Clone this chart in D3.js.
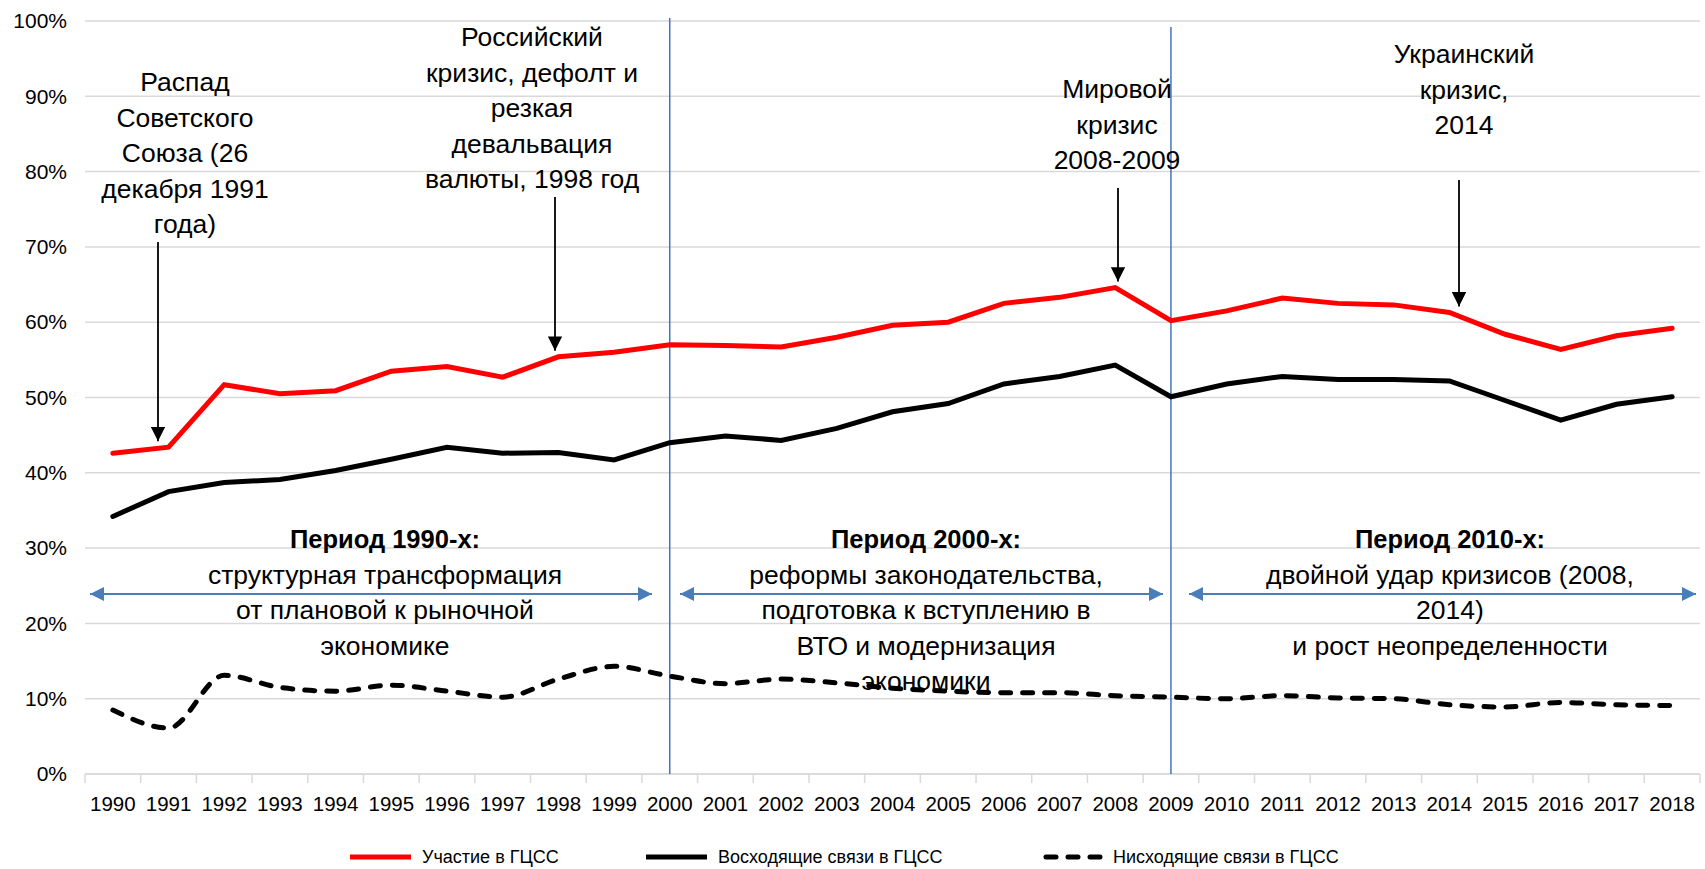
<!DOCTYPE html>
<html><head><meta charset="utf-8">
<script src="https://cdn.jsdelivr.net/npm/d3@7"></script>
<style>
html,body{margin:0;padding:0;background:#fff;}
text{font-family:"Liberation Sans",Arial,sans-serif;}
</style></head>
<body><svg id="c" width="1705" height="869"></svg>
<script>
const years = [1990,1991,1992,1993,1994,1995,1996,1997,1998,1999,2000,2001,2002,2003,2004,2005,2006,2007,2008,2009,2010,2011,2012,2013,2014,2015,2016,2017,2018];
const participation = [42.6,43.4,51.7,50.5,50.9,53.5,54.1,52.7,55.4,56.0,57.0,56.9,56.7,58.0,59.6,60.0,62.5,63.3,64.6,60.2,61.5,63.2,62.5,62.3,61.3,58.4,56.4,58.2,59.2];
const forwardLinks = [34.2,37.5,38.7,39.1,40.3,41.8,43.4,42.6,42.7,41.7,44.0,44.9,44.3,45.9,48.1,49.2,51.8,52.8,54.3,50.1,51.8,52.8,52.4,52.4,52.2,49.6,47.0,49.1,50.1];
const backwardLinks = [8.5,6.1,13.1,11.5,11.0,11.8,11.0,10.2,12.6,14.3,13.0,12.0,12.6,12.1,11.4,11.0,10.8,10.8,10.4,10.2,10.0,10.4,10.1,10.0,9.2,8.9,9.5,9.2,9.1];
const yTicks = [0,10,20,30,40,50,60,70,80,90,100];
const seriesNames = ["Участие в ГЦСС","Восходящие связи в ГЦСС","Нисходящие связи в ГЦСС"];
const eventYears = [1991,1998,2008,2014];
const eventTexts = [
  ["Распад","Советского","Союза (26","декабря 1991","года)"],
  ["Российский","кризис, дефолт и","резкая","девальвация","валюты, 1998 год"],
  ["Мировой","кризис","2008-2009"],
  ["Украинский","кризис,","2014"]
];
const periodBoundaries = [2000,2009];
const periodTitles = ["Период 1990-х:","Период 2000-х:","Период 2010-х:"];
const periodTexts = [
  ["структурная трансформация","от плановой к рыночной","экономике"],
  ["реформы законодательства,","подготовка к вступлению в","ВТО и модернизация","экономики"],
  ["двойной удар кризисов (2008,","2014)","и рост неопределенности"]
];

const svg = d3.select("#c");
const L = 85, R = 1700, T = 21, B = 774;
const x = d3.scaleBand().domain(years).range([L, R]).padding(0);
const xc = d => x(d) + x.bandwidth()/2;
const y = d3.scaleLinear().domain([0,100]).range([B, T]);
const FONT = "'Liberation Sans',Arial,sans-serif";

const defs = svg.append("defs");
defs.append("marker").attr("id","bArrow").attr("viewBox","0 0 10 10").attr("refX",10).attr("refY",5)
  .attr("markerWidth",7).attr("markerHeight",7).attr("markerUnits","strokeWidth").attr("orient","auto-start-reverse")
  .append("path").attr("d","M0,0 L10,5 L0,10 Z").attr("fill","#4a7ebb");
defs.append("marker").attr("id","kArrow").attr("viewBox","0 0 10 10").attr("refX",10).attr("refY",5)
  .attr("markerWidth",8).attr("markerHeight",8).attr("markerUnits","strokeWidth").attr("orient","auto")
  .append("path").attr("d","M0,0 L10,5 L0,10 Z").attr("fill","#000");

// gridlines
svg.append("g").selectAll("line").data(yTicks).join("line")
  .attr("x1",L).attr("x2",R).attr("y1",d=>y(d)).attr("y2",d=>y(d))
  .attr("stroke","#d9d9d9").attr("stroke-width",1.5);

// y axis labels
const yAxis = d3.axisLeft(y).tickValues(yTicks).tickFormat(d=>d+"%").tickSize(0).tickPadding(0);
const gy = svg.append("g").attr("transform",`translate(${L-18},0)`).call(yAxis);
gy.select(".domain").remove();
gy.selectAll("text").attr("font-size",21).attr("fill","#000").style("font-family",FONT);

// x axis
const xAxis = d3.axisBottom(x).tickSize(0).tickPadding(0);
const gx = svg.append("g").attr("transform",`translate(0,${B})`).call(xAxis);
gx.select(".domain").remove();
gx.selectAll("text").attr("font-size",20.5).attr("fill","#000").attr("dy","1.8em").style("font-family",FONT);
svg.append("line").attr("x1",L).attr("x2",R).attr("y1",B).attr("y2",B).attr("stroke","#d9d9d9").attr("stroke-width",1.5);
const bounds = years.map(d=>x(d)).concat([x(years[years.length-1])+x.bandwidth()]);
svg.append("g").selectAll("line").data(bounds).join("line")
  .attr("x1",d=>d).attr("x2",d=>d).attr("y1",B).attr("y2",B+9)
  .attr("stroke","#d9d9d9").attr("stroke-width",1.5);

// period separators
const sepTop = [18,27];
svg.append("g").selectAll("line").data(periodBoundaries).join("line")
  .attr("x1",d=>xc(d)).attr("x2",d=>xc(d)).attr("y1",(d,i)=>sepTop[i]).attr("y2",B)
  .attr("stroke","#4472c4").attr("stroke-width",1.5);

// series lines
const line = d3.line().x((d,i)=>xc(years[i])).y(d=>y(d));
svg.append("path").datum(participation).attr("d",line).attr("fill","none").attr("stroke","#ff0000").attr("stroke-width",5).attr("stroke-linejoin","miter").attr("stroke-linecap","round");
svg.append("path").datum(forwardLinks).attr("d",line).attr("fill","none").attr("stroke","#000").attr("stroke-width",5).attr("stroke-linejoin","miter").attr("stroke-linecap","round");
const smooth = d3.line().x((d,i)=>xc(years[i])).y(d=>y(d)).curve(d3.curveMonotoneX);
svg.append("path").datum(backwardLinks).attr("d",smooth).attr("fill","none").attr("stroke","#000").attr("stroke-width",5).attr("stroke-dasharray","10,12").attr("stroke-linecap","round");

// period arrows
const arrowY = 594;
const arrowSpans = [[90,652],[680,1163],[1189,1696]];
svg.append("g").selectAll("line").data(arrowSpans).join("line")
  .attr("x1",d=>d[0]).attr("x2",d=>d[1]).attr("y1",arrowY).attr("y2",arrowY)
  .attr("stroke","#4a7ebb").attr("stroke-width",2)
  .attr("marker-start","url(#bArrow)").attr("marker-end","url(#bArrow)");

// period texts
const periodCx = [385,926,1450];
const pStart = 539, pStep = 35.5;
periodTitles.forEach((t,i)=>{
  const g = svg.append("g");
  g.append("text").attr("x",periodCx[i]).attr("y",pStart).attr("dy","0.35em").attr("text-anchor","middle")
    .attr("font-size",25.5).attr("font-weight","bold").text(t);
  periodTexts[i].forEach((s,j)=>{
    g.append("text").attr("x",periodCx[i]).attr("y",pStart+pStep*(j+1)).attr("dy","0.35em").attr("text-anchor","middle")
      .attr("font-size",26.5).text(s);
  });
});

// event annotations
const evCx = [185,532,1117,1464];
const evTop = [82,37,89,54];
const evArrowX = [158,555,1118,1459];
const evArrowTop = [242,197,188,180];
const evStep = 35.5;
eventYears.forEach((yr,i)=>{
  const g = svg.append("g");
  eventTexts[i].forEach((s,j)=>{
    g.append("text").attr("x",evCx[i]).attr("y",evTop[i]+evStep*j).attr("dy","0.35em").attr("text-anchor","middle")
      .attr("font-size",26.5).text(s);
  });
  const v = participation[years.indexOf(yr)];
  g.append("line").attr("x1",evArrowX[i]).attr("x2",evArrowX[i]).attr("y1",evArrowTop[i]).attr("y2",y(v)-6)
    .attr("stroke","#000").attr("stroke-width",1.8).attr("marker-end","url(#kArrow)");
});

// legend
const legY = 857;
const legItems = [
  {x1:350,x2:411,tx:422,color:"#ff0000",dash:null,w:5},
  {x1:646,x2:707,tx:718,color:"#000",dash:null,w:5},
  {x1:1046,x2:1102,tx:1113,color:"#000",dash:"10,12",w:5}
];
legItems.forEach((d,i)=>{
  svg.append("line").attr("x1",d.x1).attr("x2",d.x2).attr("y1",legY).attr("y2",legY)
    .attr("stroke",d.color).attr("stroke-width",d.w).attr("stroke-dasharray",d.dash).attr("stroke-linecap",d.dash?"round":"butt");
  svg.append("text").attr("x",d.tx).attr("y",legY).attr("dy","0.35em").attr("font-size",18).text(seriesNames[i]);
});
</script></body></html>
